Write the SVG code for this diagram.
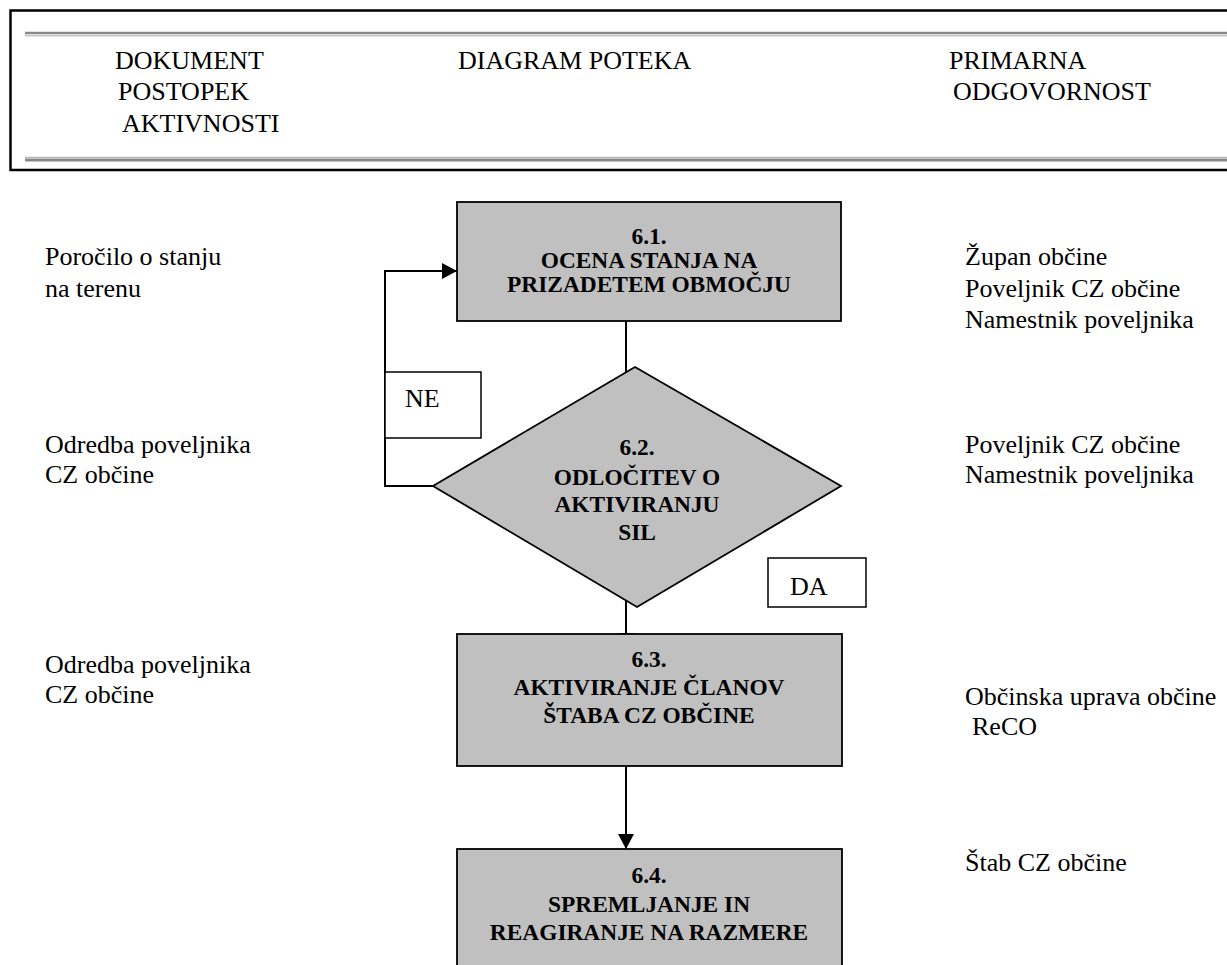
<svg xmlns="http://www.w3.org/2000/svg" width="1227" height="965" viewBox="0 0 1227 965">
<style>
  .t { font-family: "Liberation Serif", "Times New Roman", serif; font-size: 26px; fill: #000; }
  .b { font-family: "Liberation Serif", "Times New Roman", serif; font-size: 23.4px; font-weight: bold; fill: #000; text-anchor: middle; }
  .box { fill: #c0c0c0; stroke: #000; stroke-width: 1.8; }
  .lbl { fill: #fff; stroke: #000; stroke-width: 1.5; }
  .con { fill: none; stroke: #000; stroke-width: 2; }
</style>
<defs>
  <marker id="ah" viewBox="0 0 15 16" refX="15" refY="8" markerWidth="15" markerHeight="16" markerUnits="userSpaceOnUse" orient="auto">
    <path d="M0,0 L15,8 L0,16 Z" fill="#000"/>
  </marker>
</defs>
<rect width="1227" height="965" fill="#fff"/>

<g id="header">
  <rect x="10.5" y="10.5" width="1240" height="159.5" fill="none" stroke="#000" stroke-width="2.5"/>
  <line x1="25" y1="33" x2="1227" y2="33" stroke="#888" stroke-width="2.5"/>
  <line x1="25" y1="35.8" x2="1227" y2="35.8" stroke="#a8a8a8" stroke-width="1"/>
  <line x1="25" y1="157.3" x2="1227" y2="157.3" stroke="#a8a8a8" stroke-width="1"/>
  <line x1="25" y1="160" x2="1227" y2="160" stroke="#888" stroke-width="3"/>
  <text class="t" x="115" y="69">DOKUMENT</text>
  <text class="t" x="118" y="100">POSTOPEK</text>
  <text class="t" x="122" y="132">AKTIVNOSTI</text>
  <text class="t" x="458" y="69">DIAGRAM POTEKA</text>
  <text class="t" x="949" y="69">PRIMARNA</text>
  <text class="t" x="953" y="100">ODGOVORNOST</text>
</g>

<g id="connectors">
  <line class="con" x1="626" y1="317" x2="626" y2="372.3"/>
  <polyline class="con" points="433,486 385,486 385,271 457,271" marker-end="url(#ah)"/>
  <line class="con" x1="626" y1="600.5" x2="626" y2="648" marker-end="url(#ah)"/>
  <line class="con" x1="626" y1="753" x2="626" y2="849" marker-end="url(#ah)"/>
</g>

<g id="n61">
  <rect class="box" x="457" y="202" width="384" height="119"/>
  <text class="b" x="649" y="244">6.1.</text>
  <text class="b" x="649" y="268">OCENA STANJA NA</text>
  <text class="b" x="649" y="292">PRIZADETEM OBMOČJU</text>
</g>

<g id="ne">
  <rect class="lbl" x="385" y="372" width="96" height="66"/>
  <text class="t" x="405" y="407">NE</text>
</g>

<g id="n62">
  <polygon class="box" stroke-width="1.4" points="635,367 841,486 637,607 433,486"/>
  <text class="b" x="637" y="455">6.2.</text>
  <text class="b" x="637" y="485">ODLOČITEV O</text>
  <text class="b" x="637" y="512">AKTIVIRANJU</text>
  <text class="b" x="637" y="540">SIL</text>
</g>

<g id="da">
  <rect class="lbl" x="768" y="558" width="98" height="49"/>
  <text class="t" x="790" y="595">DA</text>
</g>

<g id="n63">
  <rect class="box" x="457" y="634" width="385" height="132"/>
  <text class="b" x="649" y="667">6.3.</text>
  <text class="b" x="649" y="695">AKTIVIRANJE ČLANOV</text>
  <text class="b" x="649" y="723">ŠTABA CZ OBČINE</text>
</g>

<g id="n64">
  <rect class="box" x="457" y="849" width="385" height="140"/>
  <text class="b" x="649" y="883">6.4.</text>
  <text class="b" x="649" y="912">SPREMLJANJE IN</text>
  <text class="b" x="649" y="940">REAGIRANJE NA RAZMERE</text>
</g>

<g id="left-docs">
  <text class="t" x="45" y="265">Poročilo o stanju</text>
  <text class="t" x="45" y="297">na terenu</text>
  <text class="t" x="45" y="453">Odredba poveljnika</text>
  <text class="t" x="45" y="483">CZ občine</text>
  <text class="t" x="45" y="673">Odredba poveljnika</text>
  <text class="t" x="45" y="703">CZ občine</text>
</g>

<g id="right-resp">
  <text class="t" x="965" y="265">Župan občine</text>
  <text class="t" x="965" y="297">Poveljnik CZ občine</text>
  <text class="t" x="965" y="328">Namestnik poveljnika</text>
  <text class="t" x="965" y="453">Poveljnik CZ občine</text>
  <text class="t" x="965" y="483">Namestnik poveljnika</text>
  <text class="t" x="965" y="705">Občinska uprava občine</text>
  <text class="t" x="972" y="735">ReCO</text>
  <text class="t" x="965" y="871">Štab CZ občine</text>
</g>
</svg>
